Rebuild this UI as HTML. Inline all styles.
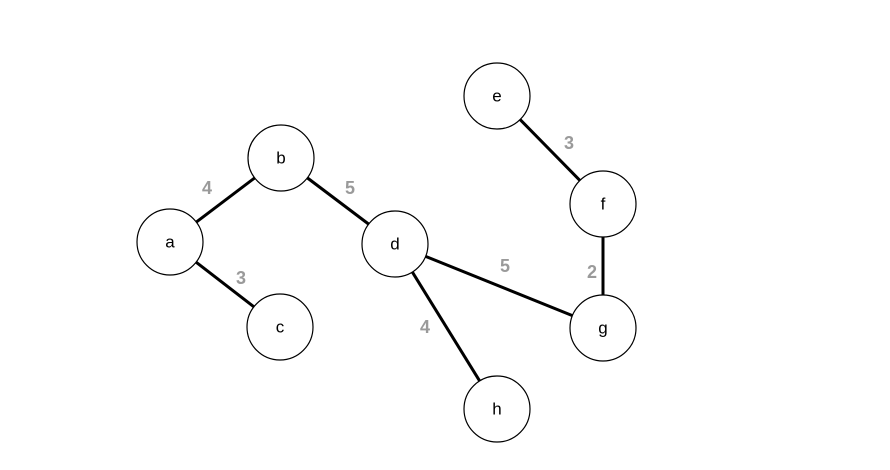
<!DOCTYPE html>
<html>
<head>
<meta charset="utf-8">
<style>
html,body{margin:0;padding:0;background:#fff;}
svg{display:block;}
</style>
</head>
<body>
<svg id="graph" width="890" height="470" viewBox="0 0 890 470" xmlns="http://www.w3.org/2000/svg"></svg>
<script>
const nodeNames = ['a','b','c','d','e','f','g','h'];
const nodeX = [170, 281, 280, 395, 497, 603, 603, 497];
const nodeY = [242, 158, 327, 244, 96, 204, 328, 409];
const edgeFrom = ['a','a','b','d','d','e','f'];
const edgeTo   = ['b','c','d','g','h','f','g'];
const edgeWeights = [4, 3, 5, 5, 4, 3, 2];
const labelX = [207, 241, 350, 505, 425, 569, 592];
const labelY = [188, 278, 188, 266, 327, 143, 272];

const svg = document.getElementById('graph');
const NS = 'http://www.w3.org/2000/svg';
const R = 33;
function idx(n){ return nodeNames.indexOf(n); }

for (let i = 0; i < edgeFrom.length; i++) {
  const a = idx(edgeFrom[i]), b = idx(edgeTo[i]);
  const x1 = nodeX[a], y1 = nodeY[a], x2 = nodeX[b], y2 = nodeY[b];
  const d = Math.hypot(x2 - x1, y2 - y1), ux = (x2 - x1) / d, uy = (y2 - y1) / d;
  const line = document.createElementNS(NS, 'line');
  
  
  line.setAttribute('x1', x1 + ux * R); line.setAttribute('y1', y1 + uy * R);
  line.setAttribute('x2', x2 - ux * R); line.setAttribute('y2', y2 - uy * R);
  line.setAttribute('stroke', '#000'); line.setAttribute('stroke-width', '3');
  svg.appendChild(line);
  const t = document.createElementNS(NS, 'text');
  
  
  t.setAttribute('x', labelX[i]); t.setAttribute('y', labelY[i]);
  t.setAttribute('text-anchor', 'middle'); t.setAttribute('dominant-baseline', 'central');
  t.setAttribute('font-family', 'Liberation Sans, sans-serif'); t.setAttribute('font-size', '18');
  t.setAttribute('font-weight', 'bold');
  t.setAttribute('fill', '#9a9a9a');
  t.textContent = edgeWeights[i];
  svg.appendChild(t);
}

for (let i = 0; i < nodeNames.length; i++) {
  const g = document.createElementNS(NS, 'g');
  
  
  const c = document.createElementNS(NS, 'circle');
  c.setAttribute('cx', nodeX[i]); c.setAttribute('cy', nodeY[i]); c.setAttribute('r', R);
  c.setAttribute('fill', '#fff'); c.setAttribute('stroke', '#000'); c.setAttribute('stroke-width', '1.2');
  g.appendChild(c);
  const t = document.createElementNS(NS, 'text');
  t.setAttribute('x', nodeX[i]); t.setAttribute('y', nodeY[i]);
  t.setAttribute('text-anchor', 'middle'); t.setAttribute('dominant-baseline', 'central');
  t.setAttribute('font-family', 'Liberation Sans, sans-serif'); t.setAttribute('font-size', '17');
  t.setAttribute('fill', '#000');
  t.textContent = nodeNames[i];
  g.appendChild(t);
  svg.appendChild(g);
}
</script>
</body>
</html>
